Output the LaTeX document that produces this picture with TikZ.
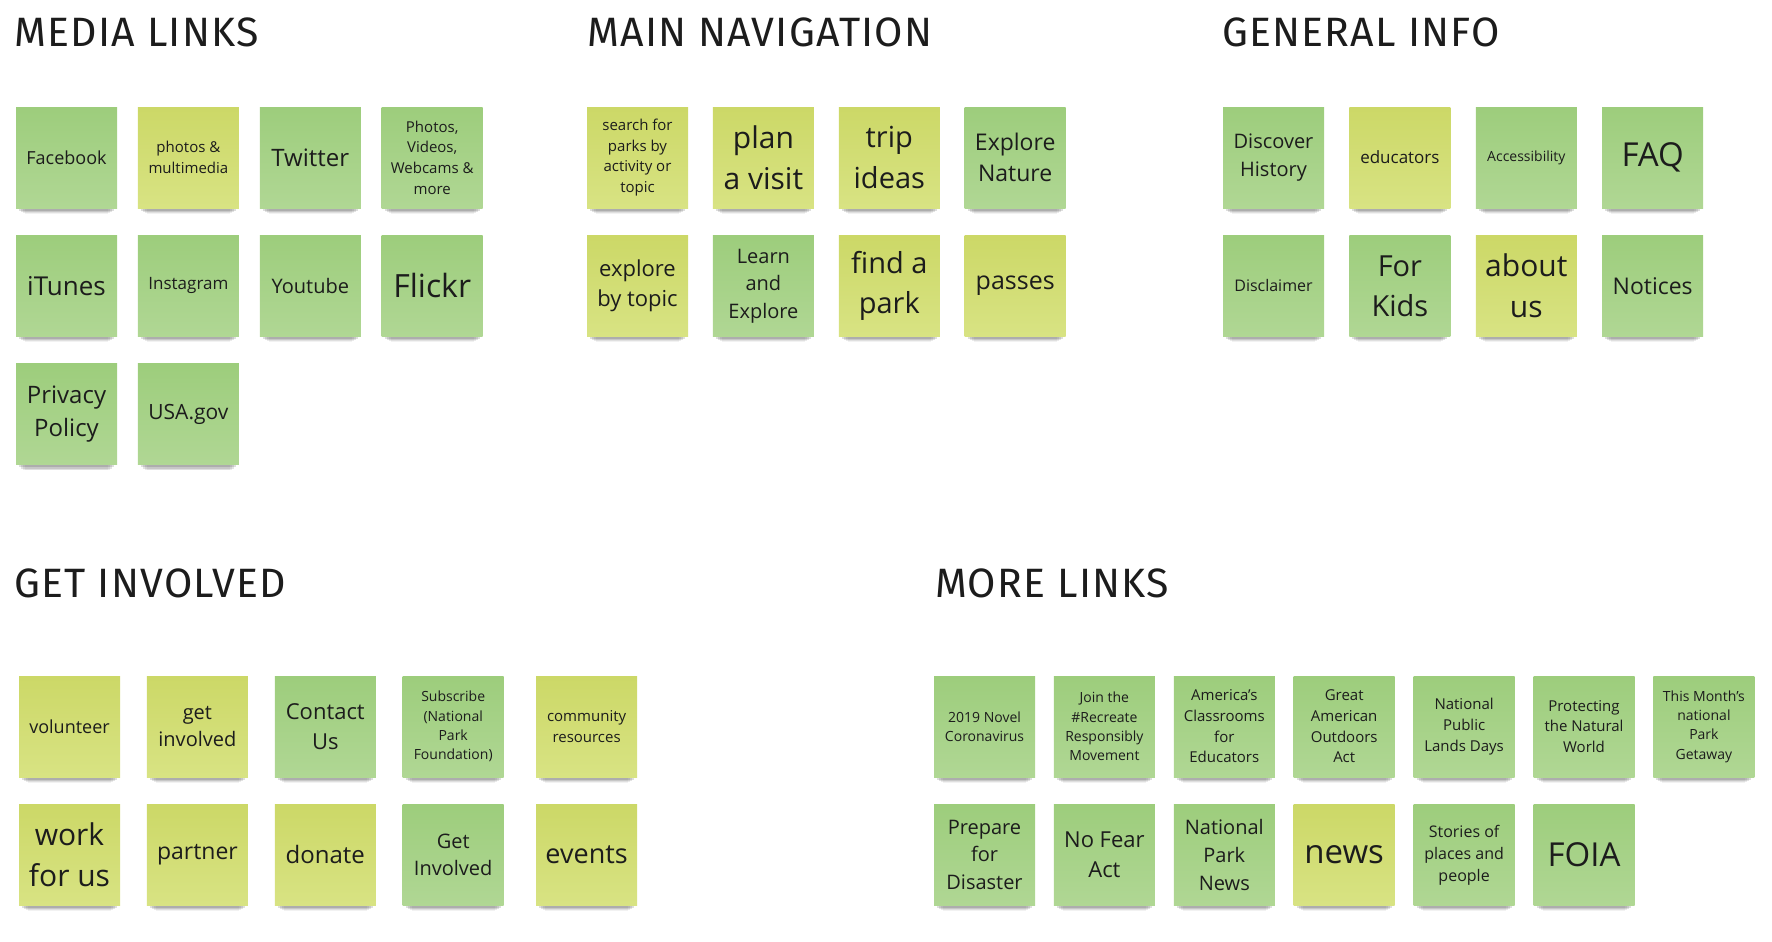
\documentclass[tikz,border=0pt]{standalone}
\usepackage{fontspec}
\setmainfont{Open Sans}
\newfontfamily\headfont{Fira Sans}[LetterSpace=3]
\usetikzlibrary{positioning,shadows}
\definecolor{greentop}{HTML}{9DCD7C}
\definecolor{greenbot}{HTML}{B0D794}
\definecolor{yellowtop}{HTML}{CCD867}
\definecolor{yellowbot}{HTML}{D8E383}
\definecolor{ink}{HTML}{1C1C1C}
\newcommand{\notesize}[1]{\fontsize{#1}{\fpeval{1.38*#1}}\selectfont}

\begin{document}
\begin{tikzpicture}[
    x=1pt, y=-1pt,
    node distance=27pt and 20.5pt,
    note/.style={minimum width=101pt, minimum height=101pt, inner sep=1pt, align=center, text=ink,
        general shadow={fill=black, opacity=.05, shadow scale=.82, shadow yshift=-18pt},
        general shadow={fill=black, opacity=.08, shadow scale=.86, shadow yshift=-14pt},
        general shadow={fill=black, opacity=.11, shadow scale=.90, shadow yshift=-10pt},
        general shadow={fill=black, opacity=.13, shadow scale=.94, shadow yshift=-6pt}},
    gnote/.style={note, top color=greentop, bottom color=greenbot},
    ynote/.style={note, top color=yellowtop, bottom color=yellowbot},
    head/.style={anchor=base west, inner sep=0pt, text=ink, font=\headfont\fontsize{41}{48}\selectfont}
]
    \useasboundingbox (0,0) rectangle (1772,942);

    % Headings
    \node[head] (medialinks) at (14,47) {MEDIA LINKS};
    \node[head] (mainnav) at (587,47) {MAIN NAVIGATION};
    \node[head] (geninfo) at (1222,47) {GENERAL INFO};
    \node[head] (involved) at (14,597) {GET INVOLVED};
    \node[head] (morelinks) at (935,597) {MORE LINKS};

    % Media links
    \node[gnote, font=\notesize{18}] (facebook) at (66.5,157.5) {Facebook};
    \node[ynote, font=\notesize{15}, right=of facebook] (photos) {photos \&\\multimedia};
    \node[gnote, font=\notesize{24}, right=of photos] (twitter) {Twitter};
    \node[gnote, font=\notesize{15}, right=of twitter] (webcams) {Photos,\\Videos,\\Webcams \&\\more};
    \node[gnote, font=\notesize{26}, below=of facebook] (itunes) {iTunes};
    \node[gnote, font=\notesize{17}, right=of itunes] (instagram) {Instagram};
    \node[gnote, font=\notesize{20}, right=of instagram] (youtube) {Youtube};
    \node[gnote, font=\notesize{32}, right=of youtube] (flickr) {Flickr};
    \node[gnote, font=\notesize{24}, below=of itunes] (privacy) {Privacy\\Policy};
    \node[gnote, font=\notesize{21}, right=of privacy] (usagov) {USA.gov};

    % Main navigation
    \begin{scope}[node distance=27pt and 24.5pt]
    \node[ynote, font=\notesize{15}] (search) at (637.5,157.5) {search for\\parks by\\activity or\\topic};
    \node[ynote, font=\notesize{30}, right=of search] (plan) {plan\\a visit};
    \node[ynote, font=\notesize{29}, right=of plan] (trip) {trip\\ideas};
    \node[gnote, font=\notesize{23}, right=of trip] (nature) {Explore\\Nature};
    \node[ynote, font=\notesize{22}, below=of search] (bytopic) {explore\\by topic};
    \node[gnote, font=\notesize{20}, right=of bytopic] (learn) {Learn\\and\\Explore};
    \node[ynote, font=\notesize{29}, right=of learn] (findpark) {find a\\park};
    \node[ynote, font=\notesize{25}, right=of findpark] (passes) {passes};
    \end{scope}

    % General info
    \begin{scope}[node distance=27pt and 25pt]
    \node[gnote, font=\notesize{20}] (history) at (1273.5,157.5) {Discover\\History};
    \node[ynote, font=\notesize{17}, right=of history] (educators) {educators};
    \node[gnote, font=\notesize{14}, right=of educators] (access) {Accessibility};
    \node[gnote, font=\notesize{33}, right=of access] (faq) {FAQ};
    \node[gnote, font=\notesize{16}, below=of history] (disclaimer) {Disclaimer};
    \node[gnote, font=\notesize{29}, right=of disclaimer] (kids) {For\\Kids};
    \node[ynote, font=\notesize{30}, right=of kids] (about) {about\\us};
    \node[gnote, font=\notesize{23}, right=of about] (notices) {Notices};
    \end{scope}

    % Get involved
    \begin{scope}[node distance=27pt and 26.5pt]
    \node[ynote, font=\notesize{18}] (volunteer) at (69.5,726.5) {volunteer};
    \node[ynote, font=\notesize{20}, right=of volunteer] (getinv) {get\\involved};
    \node[gnote, font=\notesize{22}, right=of getinv] (contact) {Contact\\Us};
    \node[gnote, font=\notesize{14}, right=of contact] (subscribe) {Subscribe\\(National\\Park\\Foundation)};
    \node[ynote, font=\notesize{15}, right=32pt of subscribe] (community) {community\\resources};
    \node[ynote, font=\notesize{30}, below=of volunteer] (work) {work\\for us};
    \node[ynote, font=\notesize{23}, right=of work] (partner) {partner};
    \node[ynote, font=\notesize{24}, right=of partner] (donate) {donate};
    \node[gnote, font=\notesize{20}, right=of donate] (getinvolved) {Get\\Involved};
    \node[ynote, font=\notesize{27}, right=32pt of getinvolved] (events) {events};
    \end{scope}

    % More links
    \begin{scope}[node distance=27pt and 18.5pt]
    \node[gnote, font=\notesize{14}] (corona) at (984.5,726.5) {2019 Novel\\Coronavirus};
    \node[gnote, font=\notesize{14}, right=of corona] (recreate) {Join the\\\#Recreate\\Responsibly\\Movement};
    \node[gnote, font=\notesize{15}, right=of recreate] (classrooms) {America's\\Classrooms\\for\\Educators};
    \node[gnote, font=\notesize{15}, right=of classrooms] (outdoors) {Great\\American\\Outdoors\\Act};
    \node[gnote, font=\notesize{15}, right=of outdoors] (lands) {National\\Public\\Lands Days};
    \node[gnote, font=\notesize{15}, right=of lands] (protecting) {Protecting\\the Natural\\World};
    \node[gnote, font=\notesize{14}, right=of protecting] (getaway) {This Month's\\national\\Park\\Getaway};
    \node[gnote, font=\notesize{20}, below=of corona] (disaster) {Prepare\\for\\Disaster};
    \node[gnote, font=\notesize{22}, right=of disaster] (nofear) {No Fear\\Act};
    \node[gnote, font=\notesize{20}, right=of nofear] (parknews) {National\\Park\\News};
    \node[ynote, font=\notesize{33}, right=of parknews] (news) {news};
    \node[gnote, font=\notesize{16}, right=of news] (stories) {Stories of\\places and\\people};
    \node[gnote, font=\notesize{33}, right=of stories] (foia) {FOIA};
    \end{scope}
\end{tikzpicture}
\end{document}
